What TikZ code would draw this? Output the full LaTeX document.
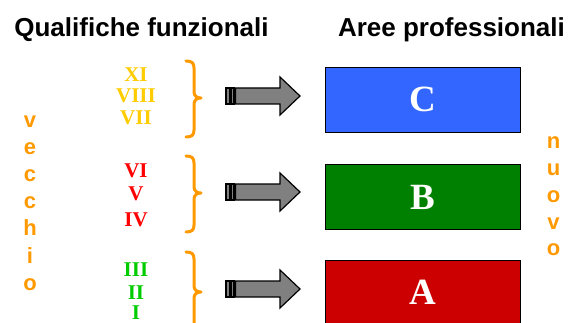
\documentclass[tikz,border=0pt]{standalone}
\usepackage{fontspec}
\setmainfont{Liberation Serif}
\setsansfont{Liberation Sans}
\definecolor{boxblue}{RGB}{51,102,255}
\definecolor{boxgreen}{RGB}{0,128,0}
\definecolor{boxred}{RGB}{204,0,0}
\definecolor{qyellow}{RGB}{255,204,0}
\definecolor{qred}{RGB}{255,0,0}
\definecolor{qgreen}{RGB}{0,204,0}
\definecolor{qorange}{RGB}{255,153,0}
\definecolor{arrgray}{RGB}{128,128,128}
\tikzset{
  title/.style={font=\sffamily\bfseries\fontsize{26}{30}\selectfont, inner sep=0pt, anchor=base},
  area/.style={draw=black, line width=1pt, minimum width=195pt, minimum height=65pt, inner sep=0pt, anchor=north west},
  arealetter/.style={text=white, font=\rmfamily\bfseries\fontsize{37}{40}\selectfont, inner sep=0pt, anchor=base},
  roman/.style={font=\rmfamily\bfseries\fontsize{21}{23}\selectfont, inner sep=0pt, anchor=base},
  vert/.style={font=\sffamily\bfseries\fontsize{22}{24}\selectfont, text=qorange, inner sep=0pt, anchor=base},
  bracestyle/.style={draw=qorange, line width=3pt, line cap=round, line join=round},
  blockarrow/.style={draw=black, fill=arrgray, line width=1.2pt, line join=miter},
}
\newcommand{\mybrace}[4]{% x, top, mid, bottom
  \draw[bracestyle] (#1,#2) .. controls (#1+6,#2) and (#1+8,#2+2) .. (#1+8,#2+7)
    -- (#1+8,#3-6) .. controls (#1+8,#3-2) and (#1+11,#3) .. (#1+15,#3)
    .. controls (#1+11,#3) and (#1+8,#3+2) .. (#1+8,#3+6)
    -- (#1+8,#4-7) .. controls (#1+8,#4-2) and (#1+6,#4) .. (#1,#4);
}
\newcommand{\myarrow}[1]{% center y
  \draw[blockarrow] (226,#1-8) rectangle (230,#1+8);
  \draw[blockarrow] (231.5,#1-8) rectangle (234,#1+8);
  \draw[blockarrow] (235.5,#1-8) -- (280,#1-8) -- (280,#1-19) -- (300,#1)
    -- (280,#1+19) -- (280,#1+8) -- (235.5,#1+8) -- cycle;
}
\begin{document}
\begin{tikzpicture}[x=1pt,y=-1pt]
\useasboundingbox (0,0) rectangle (569,323);
\node[title] (t1) at (141.5,37) {Qualifiche funzionali};
\node[title] (t2) at (451.5,37) {Aree professionali};

% vertical words
\foreach \ch [count=\i] in {v,e,c,c,h,i,o}
  \node[vert] (vl\i) at (30,{127.5+27.1*(\i-1)}) {\ch};
\foreach \ch [count=\i] in {n,u,o,v,o}
  \node[vert] (vr\i) at (553.5,{149+26.7*(\i-1)}) {\ch};

% roman numerals
\node[roman, text=qyellow] (r11) at (136,82) {XI};
\node[roman, text=qyellow] (r8) at (136,103) {VIII};
\node[roman, text=qyellow] (r7) at (136,125) {VII};
\node[roman, text=qred] (r6) at (136,177) {VI};
\node[roman, text=qred] (r5) at (136,200.5) {V};
\node[roman, text=qred] (r4) at (136,226.5) {IV};
\node[roman, text=qgreen] (r3) at (136,276.5) {III};
\node[roman, text=qgreen] (r2) at (136,299.5) {II};
\node[roman, text=qgreen] (r1) at (136,319) {I};

% braces
\mybrace{186}{61}{98}{137}
\mybrace{186}{156}{193}{232}
\mybrace{186}{252}{292}{340}

% arrows
\myarrow{96}
\myarrow{192}
\myarrow{289}

% boxes
\node[area, fill=boxblue] (c) at (325,67) {};
\node[area, fill=boxgreen] (b) at (325,164) {};
\node[area, fill=boxred, minimum height=75pt] (a) at (325,259.5) {};
\node[arealetter] (cl) at (422.5,112) {C};
\node[arealetter] (bl) at (422.5,209) {B};
\node[arealetter] (al) at (422.5,304.5) {A};
\end{tikzpicture}
\end{document}
